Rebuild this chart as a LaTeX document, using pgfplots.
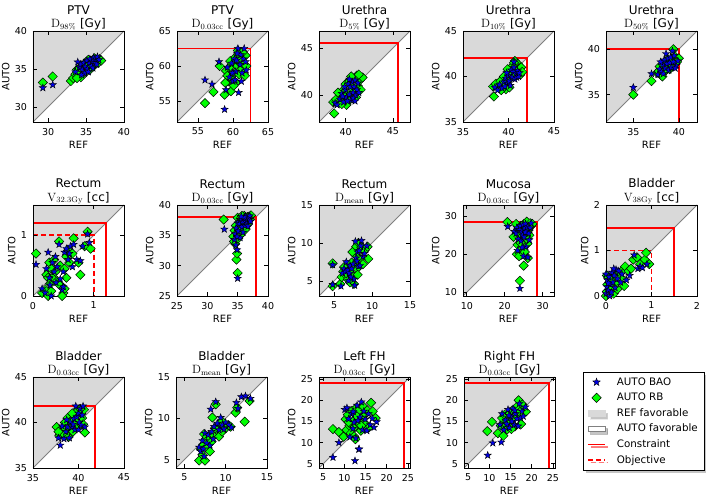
\documentclass[border=0pt]{standalone}
\usepackage[no-math]{fontspec}
\setmainfont{DejaVu Sans}
\usepackage{pgfplots}
\pgfplotsset{compat=1.18}
\usetikzlibrary{shadows}

\definecolor{favgray}{RGB}{217,217,217}
\definecolor{rbgreen}{RGB}{0,255,0}
\definecolor{baoblue}{RGB}{0,0,230}
\definecolor{limred}{RGB}{255,0,0}

% filled five-point star
\pgfdeclareplotmark{fstar}{%
  \pgfpathmoveto{\pgfpointpolar{90}{\pgfplotmarksize}}%
  \pgfpathlineto{\pgfpointpolar{126}{0.4\pgfplotmarksize}}%
  \pgfpathlineto{\pgfpointpolar{162}{\pgfplotmarksize}}%
  \pgfpathlineto{\pgfpointpolar{198}{0.4\pgfplotmarksize}}%
  \pgfpathlineto{\pgfpointpolar{234}{\pgfplotmarksize}}%
  \pgfpathlineto{\pgfpointpolar{270}{0.4\pgfplotmarksize}}%
  \pgfpathlineto{\pgfpointpolar{306}{\pgfplotmarksize}}%
  \pgfpathlineto{\pgfpointpolar{342}{0.4\pgfplotmarksize}}%
  \pgfpathlineto{\pgfpointpolar{18}{\pgfplotmarksize}}%
  \pgfpathlineto{\pgfpointpolar{54}{0.4\pgfplotmarksize}}%
  \pgfpathclose
  \pgfusepathqfillstroke
}

\pgfplotsset{
  panel/.style={
    scale only axis, width=91pt, height=91pt,
    anchor=south west,
    axis on top,
    tick align=inside,
    major tick length=4pt,
    every tick/.style={black, line width=0.6pt},
    axis line style={line width=0.8pt},
    tick label style={font=\fontsize{9.5}{11}\selectfont},
    /pgf/number format/assume math mode=true,
    xticklabel style={yshift=-2.5pt},
    yticklabel style={xshift=-2.5pt},
    label style={font=\fontsize{10}{12}\selectfont},
    xlabel={REF}, ylabel={AUTO},
    xlabel style={yshift=1pt},
    ylabel style={yshift=-1.5pt},
    every axis title shift=0pt,
    title style={font=\fontsize{12}{13.5}\selectfont, align=center, yshift=-3pt},
  },
  bao/.style={only marks, mark=fstar, mark size=3.8pt,
    mark options={fill=baoblue, draw=black, line width=0.4pt}, forget plot},
  rb/.style={only marks, mark=square*, mark size=3.3pt,
    mark options={rotate=45, fill=rbgreen, draw=black, line width=0.5pt}, forget plot},
}

% shaded half and diagonal
\newcommand{\base}[2]{%
  \addplot[fill=favgray, draw=none, forget plot] coordinates {(#1,#1) (#1,#2) (#2,#2)} -- cycle;
  \addplot[gray, line width=0.8pt, forget plot] coordinates {(#1,#1) (#2,#2)};
}
\newcommand{\cons}[2]{%
  \addplot[limred, line width=1.9pt, forget plot] coordinates {(#1,#2) (#2,#2) (#2,#1)};
}
\newcommand{\obj}[2]{%
  \addplot[limred, line width=1.9pt, dash pattern=on 5pt off 3pt, forget plot] coordinates {(#1,#2) (#2,#2) (#2,#1)};
}

\begin{document}
\begin{tikzpicture}
\path[use as bounding box] (0,0) rectangle (709pt,497pt);

% ---------------- row 1 ----------------
\begin{axis}[panel, at={(33pt,375pt)},
  xmin=28, xmax=40, ymin=28, ymax=40,
  xtick={30,35,40}, ytick={30,35,40},
  title={PTV\\$\mathrm{D}_{98\%}$ [Gy]}]
\base{28}{40}
\addplot[rb] coordinates {
(29.3,33.2) (30.6,34.0) (33.0,33.4) (33.3,33.8) (33.6,34.3) (33.8,34.9) (34.0,35.0)
(34.2,34.4) (34.4,35.3) (34.6,34.8) (34.8,35.4) (35.0,34.6) (35.0,35.9) (35.2,35.2)
(35.4,35.6) (35.5,34.9) (35.7,35.9) (35.9,35.3) (36.0,36.0) (36.2,35.6) (36.4,36.2)
(36.6,35.8) (36.8,36.3) (37.0,36.1) (34.3,33.9) (33.8,33.8) (35.3,36.2) (36.1,36.4)
(34.9,35.7) (35.6,35.3)};
\addplot[bao] coordinates {
(29.3,32.5) (30.6,32.9) (33.6,34.6) (33.9,35.9) (34.1,35.2) (34.3,35.6) (34.5,34.9)
(34.7,35.8) (34.9,35.3) (35.1,36.1) (35.2,35.0) (35.4,35.7) (35.5,36.3) (35.7,35.4)
(35.8,36.0) (36.0,36.5) (36.1,35.8) (36.3,36.3) (36.5,36.6) (36.7,36.2) (34.8,34.4)
(35.3,34.6) (35.9,35.1) (34.4,34.2) (36.4,35.6)};
\end{axis}

\begin{axis}[panel, at={(177pt,375pt)},
  xmin=52, xmax=65, ymin=52, ymax=65,
  xtick={55,60,65}, ytick={55,60,65},
  title={PTV\\$\mathrm{D}_{0.03\mathrm{cc}}$ [Gy]}]
\base{52}{65}
\cons{52}{62.5}
\addplot[rb] coordinates {
(56.0,54.7) (57.2,56.3) (58.1,60.0) (58.8,55.9) (59.0,59.3) (59.3,57.8) (59.5,59.8)
(59.7,56.4) (59.8,58.2) (60.0,60.6) (60.2,59.0) (60.3,61.2) (60.4,57.6) (60.6,60.0)
(60.8,61.8) (60.9,58.8) (61.0,60.4) (61.2,61.0) (61.3,59.6) (61.5,61.6) (61.6,60.2)
(61.7,58.6) (61.8,61.5) (61.9,60.0) (59.2,58.6) (60.1,57.2) (59.6,60.7) (60.7,62.2)
(58.9,57.6) (61.4,62.0)};
\addplot[bao] coordinates {
(56.0,58.0) (57.0,57.4) (58.0,60.6) (58.8,53.8) (59.0,56.6) (59.2,59.8) (59.5,58.4)
(59.8,60.4) (60.0,57.8) (60.2,61.0) (60.4,59.2) (60.5,60.8) (60.7,62.5) (60.8,56.2)
(61.0,60.2) (61.1,61.6) (61.3,59.0) (61.5,61.0) (61.6,62.5) (61.8,60.6) (60.3,58.0)
(59.9,59.0) (61.2,57.8) (60.6,61.8) (61.9,59.4)};
\end{axis}

\begin{axis}[panel, at={(319pt,375pt)},
  xmin=37.2, xmax=46.8, ymin=37.2, ymax=46.8,
  xtick={40,45}, ytick={40,45},
  title={Urethra\\$\mathrm{D}_{5\%}$ [Gy]}]
\base{37.2}{46.8}
\cons{37.2}{45.5}
\addplot[rb] coordinates {
(38.8,38.1) (38.7,39.3) (39.0,39.6) (39.3,39.2) (39.5,40.0) (39.7,40.5) (39.9,39.4)
(40.0,41.2) (40.2,40.1) (40.4,41.5) (40.5,39.6) (40.7,40.8) (40.9,41.8) (41.0,40.2)
(41.2,42.1) (41.3,41.0) (41.5,41.6) (41.6,40.6) (41.8,41.9) (39.2,40.3) (40.1,39.0)
(41.1,39.8) (40.6,42.0) (39.6,39.1) (41.4,42.2)};
\addplot[bao] coordinates {
(38.9,39.2) (39.1,39.0) (39.4,39.6) (39.6,40.2) (39.8,39.3) (40.0,40.6) (40.1,39.8)
(40.3,41.2) (40.4,40.1) (40.5,40.9) (40.6,39.5) (40.7,41.4) (40.8,40.3) (40.9,40.9)
(41.0,41.6) (41.1,40.0) (41.2,40.6) (41.3,41.3) (40.2,39.4) (39.7,39.9) (40.8,39.7)
(41.0,39.4) (39.9,40.9) (40.4,41.7) (41.4,40.3)};
\end{axis}

\begin{axis}[panel, at={(463pt,375pt)},
  xmin=35, xmax=45, ymin=35, ymax=45,
  xtick={35,40,45}, ytick={35,40,45},
  title={Urethra\\$\mathrm{D}_{10\%}$ [Gy]}]
\base{35}{45}
\cons{35}{42}
\addplot[rb] coordinates {
(38.4,37.8) (38.3,38.9) (38.6,39.2) (38.9,38.8) (39.1,39.5) (39.3,39.0) (39.5,40.0)
(39.8,39.6) (40.0,40.6) (40.2,39.8) (40.4,41.1) (40.5,40.3) (40.7,41.7) (40.9,40.8)
(41.0,41.4) (41.2,40.9) (41.4,41.0) (41.3,40.2) (39.7,38.6) (40.1,38.8) (39.2,38.5)
(41.5,40.5) (40.6,41.5) (39.9,40.8)};
\addplot[bao] coordinates {
(38.5,38.8) (38.8,38.5) (39.0,39.1) (39.3,38.7) (39.5,39.4) (39.7,39.8) (39.9,39.2)
(40.0,40.1) (40.1,39.5) (40.3,40.7) (40.4,39.9) (40.5,40.5) (40.6,41.0) (40.7,39.7)
(40.8,40.3) (40.9,39.9) (41.0,40.6) (41.1,40.0) (40.2,39.0) (39.6,38.9) (40.6,41.6)
(41.2,40.4) (39.8,40.4)};
\end{axis}

\begin{axis}[panel, at={(606pt,375pt)},
  xmin=32, xmax=42, ymin=32, ymax=42,
  xtick={35,40}, ytick={35,40},
  title={Urethra\\$\mathrm{D}_{50\%}$ [Gy]}]
\base{32}{42}
\cons{32}{40}
\addplot[rb] coordinates {
(35.0,35.0) (37.0,36.5) (37.6,37.4) (37.8,37.6) (38.0,37.2) (38.1,37.9) (38.3,38.2)
(38.4,37.5) (38.5,38.6) (38.7,38.0) (38.8,38.9) (38.9,38.3) (39.0,37.8) (39.1,38.7)
(39.2,38.1) (39.3,38.8) (39.4,40.0) (39.5,38.4) (39.6,39.2) (40.0,39.0) (38.2,37.0)
(38.6,37.7) (39.8,38.6) (37.9,38.1)};
\addplot[bao] coordinates {
(35.0,35.8) (37.0,37.3) (37.7,37.2) (37.9,37.8) (38.1,37.5) (38.2,38.3) (38.4,38.8)
(38.5,37.9) (38.6,39.5) (38.7,38.4) (38.8,39.0) (38.9,37.7) (39.0,38.5) (39.1,39.1)
(39.2,38.0) (39.3,39.8) (39.4,38.6) (39.5,39.3) (39.7,38.2) (39.9,38.7) (38.3,37.3)
(39.6,37.9) (38.0,38.6)};
\end{axis}

% ---------------- row 2 ----------------
\begin{axis}[panel, at={(33pt,201pt)},
  xmin=0, xmax=1.5, ymin=0, ymax=1.5,
  xtick={0,1}, ytick={0,1},
  title={Rectum\\$\mathrm{V}_{32.3\mathrm{Gy}}$ [cc]}]
\base{0}{1.5}
\cons{0}{1.2}
\obj{0}{1}
\addplot[rb] coordinates {
(0.05,0.70) (0.15,0.05) (0.20,0.10) (0.22,0.35) (0.25,0.00) (0.27,0.55) (0.28,0.20)
(0.30,0.45) (0.30,0.08) (0.32,0.30) (0.35,0.60) (0.37,0.40) (0.40,0.25) (0.43,0.90)
(0.45,0.50) (0.48,0.15) (0.50,0.05) (0.52,0.45) (0.55,0.65) (0.55,0.30) (0.58,0.75)
(0.60,0.55) (0.65,0.70) (0.67,0.95) (0.75,0.55) (0.78,0.35) (0.85,0.82) (0.90,1.06)
(0.95,0.78) (0.48,0.00) (0.52,0.12) (0.25,0.30) (0.42,0.20)};
\addplot[bao] coordinates {
(0.05,0.52) (0.15,0.12) (0.20,0.05) (0.22,0.45) (0.25,0.72) (0.27,0.30) (0.28,0.18)
(0.30,0.00) (0.32,0.55) (0.35,0.40) (0.37,0.65) (0.40,0.48) (0.43,0.85) (0.45,0.28)
(0.48,0.10) (0.50,0.40) (0.52,0.72) (0.55,0.78) (0.58,0.60) (0.60,0.70) (0.62,0.82)
(0.65,0.48) (0.67,0.85) (0.72,0.60) (0.78,0.58) (0.82,0.82) (0.90,1.02) (0.93,0.88)
(0.38,0.22) (0.50,0.15)};
\end{axis}

\begin{axis}[panel, at={(177pt,201pt)},
  xmin=25, xmax=40, ymin=25, ymax=40,
  xtick={25,30,35,40}, ytick={25,30,35,40},
  title={Rectum\\$\mathrm{D}_{0.03\mathrm{cc}}$ [Gy]}]
\base{25}{40}
\cons{25}{38}
\addplot[rb] coordinates {
(32.7,37.6) (35.0,28.8) (34.8,31.0) (34.9,32.0) (34.6,33.6) (34.4,34.0) (34.5,35.8)
(34.3,34.8) (35.0,37.9) (35.2,36.3) (35.3,37.2) (35.5,37.8) (35.6,36.0) (35.8,35.6)
(35.9,37.5) (36.0,36.8) (36.1,38.2) (36.3,37.4) (36.5,36.6) (36.6,38.0) (36.7,37.0)
(36.9,38.1) (37.0,37.6) (37.2,38.3) (35.4,35.0) (35.1,34.5) (36.2,35.9) (35.7,38.2)
(36.8,37.9) (34.7,36.6)};
\addplot[bao] coordinates {
(32.8,36.0) (35.0,27.9) (34.9,32.6) (34.7,33.4) (34.5,34.3) (34.6,35.2) (34.8,36.2)
(35.0,37.0) (35.1,35.7) (35.3,36.9) (35.4,34.6) (35.5,37.6) (35.7,36.4) (35.8,37.3)
(35.9,35.5) (36.0,37.8) (36.2,36.6) (36.3,38.1) (36.4,37.2) (36.6,37.6) (36.7,36.5)
(36.9,37.7) (37.0,38.2) (37.1,37.3) (36.1,38.0) (35.6,38.1) (34.9,34.8)};
\end{axis}

\begin{axis}[panel, at={(319pt,201pt)},
  xmin=3, xmax=15, ymin=3, ymax=15,
  xtick={5,10,15}, ytick={5,10,15},
  title={Rectum\\$\mathrm{D}_{\mathrm{mean}}$ [Gy]}]
\base{3}{15}
\addplot[rb] coordinates {
(4.8,7.3) (4.8,4.3) (5.8,4.6) (6.0,5.5) (6.2,6.2) (6.5,5.8) (6.7,6.5) (6.8,5.2)
(7.0,6.8) (7.2,6.0) (7.3,7.4) (7.5,5.5) (7.6,4.6) (7.7,7.0) (7.8,8.4) (7.9,9.5)
(8.0,6.6) (8.2,10.0) (8.3,7.5) (8.4,8.0) (8.6,9.4) (8.8,7.2) (9.0,9.0) (9.5,7.9)
(9.4,9.5) (7.4,8.8) (6.3,6.8) (8.1,5.8) (7.1,4.8) (6.6,6.0)};
\addplot[bao] coordinates {
(4.8,7.1) (4.8,4.5) (5.9,4.3) (6.1,6.0) (6.3,6.6) (6.5,6.2) (6.6,7.5) (6.8,6.4)
(7.0,6.0) (7.1,7.0) (7.3,6.6) (7.5,7.2) (7.6,5.2) (7.7,4.4) (7.8,10.2) (7.9,8.0)
(8.0,7.6) (8.1,8.8) (8.2,6.9) (8.3,9.0) (8.4,7.0) (8.6,10.3) (8.8,8.2) (9.0,8.6)
(9.3,9.6) (7.2,5.5) (6.9,5.0) (8.5,9.6)};
\end{axis}

\begin{axis}[panel, at={(463pt,201pt)},
  xmin=9, xmax=33, ymin=9, ymax=33,
  xtick={10,20,30}, ytick={10,20,30},
  title={Mucosa\\$\mathrm{D}_{0.03\mathrm{cc}}$ [Gy]}]
\base{9}{33}
\cons{9}{28.5}
\addplot[rb] coordinates {
(20.7,28.5) (22.3,24.6) (23.0,28.0) (23.2,20.0) (23.4,22.5) (23.6,26.5) (23.8,19.5)
(24.0,13.0) (24.1,25.0) (24.3,27.5) (24.5,21.5) (24.7,23.8) (24.9,26.0) (25.0,17.0)
(25.1,28.0) (25.3,20.6) (25.5,24.5) (25.6,27.0) (25.8,28.6) (26.0,22.8) (26.1,19.0)
(26.3,26.4) (26.5,25.0) (26.7,28.2) (27.0,27.5) (27.3,28.0) (24.2,23.0) (25.9,24.0)
(23.7,25.5)};
\addplot[bao] coordinates {
(20.8,27.3) (22.5,26.0) (23.0,25.5) (23.2,27.0) (23.4,21.0) (23.6,24.0) (23.8,26.5)
(24.0,11.0) (24.1,27.5) (24.3,23.5) (24.5,26.0) (24.7,25.0) (24.9,27.8) (25.0,19.5)
(25.1,24.5) (25.3,26.8) (25.5,28.0) (25.6,22.0) (25.8,26.0) (26.0,27.2) (26.1,19.2)
(26.3,25.5) (26.5,23.8) (26.7,27.0) (27.0,28.2) (24.6,21.8) (25.4,25.8)};
\end{axis}

\begin{axis}[panel, at={(606pt,201pt)},
  xmin=0, xmax=2, ymin=0, ymax=2,
  xtick={0,1,2}, ytick={0,1,2},
  title={Bladder\\$\mathrm{V}_{38\mathrm{Gy}}$ [cc]}]
\base{0}{2}
\cons{0}{1.5}
\obj{0}{1}
\addplot[rb] coordinates {
(0.00,0.00) (0.02,0.10) (0.03,0.25) (0.05,0.40) (0.06,0.05) (0.08,0.30) (0.10,0.15)
(0.12,0.20) (0.15,0.35) (0.17,0.05) (0.20,0.45) (0.22,0.28) (0.25,0.15) (0.30,0.50)
(0.33,0.40) (0.35,0.55) (0.40,0.22) (0.42,0.65) (0.50,0.55) (0.55,0.60) (0.60,0.80)
(0.68,0.85) (0.75,0.70) (0.85,0.80) (0.88,0.95) (0.95,0.70) (0.02,0.45) (0.10,0.35)};
\addplot[bao] coordinates {
(0.00,0.05) (0.00,0.48) (0.02,0.20) (0.03,0.35) (0.05,0.12) (0.07,0.42) (0.08,0.00)
(0.10,0.25) (0.12,0.08) (0.13,0.52) (0.15,0.30) (0.18,0.45) (0.20,0.18) (0.22,0.58)
(0.25,0.38) (0.28,0.55) (0.32,0.30) (0.35,0.48) (0.45,0.35) (0.52,0.45) (0.62,0.90)
(0.70,0.60) (0.75,0.65) (0.80,0.62) (0.90,0.70) (0.05,0.28) (0.17,0.60)};
\end{axis}

% ---------------- row 3 ----------------
\begin{axis}[panel, at={(33pt,29pt)},
  xmin=35, xmax=45, ymin=35, ymax=45,
  xtick={35,40,45}, ytick={35,40,45},
  title={Bladder\\$\mathrm{D}_{0.03\mathrm{cc}}$ [Gy]}]
\base{35}{45}
\cons{35}{41.8}
\addplot[rb] coordinates {
(37.6,39.5) (37.9,38.6) (38.1,39.2) (38.3,38.8) (38.5,40.0) (38.6,39.3) (38.8,40.5)
(39.0,39.6) (39.2,40.2) (39.4,39.0) (39.5,40.8) (39.7,40.0) (39.8,41.2) (40.0,40.4)
(40.1,39.6) (40.3,41.0) (40.4,40.5) (40.5,39.8) (40.6,41.4) (40.7,38.9) (38.9,38.4)
(39.3,41.0) (40.2,41.5) (37.8,39.0)};
\addplot[bao] coordinates {
(38.0,37.5) (37.8,38.3) (38.2,39.6) (38.4,38.2) (38.6,39.0) (38.8,39.5) (39.0,38.3)
(39.1,40.0) (39.3,39.5) (39.5,40.4) (39.6,39.2) (39.7,41.8) (39.8,40.6) (40.0,41.0)
(40.1,40.0) (40.2,41.5) (40.3,39.7) (40.4,40.8) (40.5,41.8) (40.7,39.5) (39.4,39.8)
(38.7,40.3) (40.0,39.2)};
\end{axis}

\begin{axis}[panel, at={(176pt,29pt)},
  xmin=4, xmax=15, ymin=4, ymax=15,
  xtick={5,10,15}, ytick={5,10,15},
  title={Bladder\\$\mathrm{D}_{\mathrm{mean}}$ [Gy]}]
\base{4}{15}
\addplot[rb] coordinates {
(6.8,4.9) (7.0,6.3) (7.2,5.6) (7.3,6.8) (7.5,4.9) (7.6,7.5) (7.8,6.5) (8.0,7.8)
(8.1,6.0) (8.3,7.2) (8.4,10.1) (8.5,8.0) (8.8,11.7) (9.0,8.5) (9.2,7.8) (9.4,9.3)
(9.6,8.4) (9.8,9.0) (10.0,8.8) (10.3,9.2) (10.6,9.0) (11.2,10.7) (11.4,11.3)
(12.3,9.6) (12.9,12.1) (7.4,8.1) (8.7,8.8) (9.5,9.7)};
\addplot[bao] coordinates {
(6.8,6.5) (7.0,6.0) (7.2,7.3) (7.4,5.4) (7.5,8.2) (7.7,7.0) (7.9,8.0) (8.1,6.7)
(8.2,11.1) (8.3,8.4) (8.5,7.5) (8.8,12.0) (9.0,9.4) (9.2,8.6) (9.4,10.1) (9.6,9.2)
(9.8,8.7) (10.0,9.5) (10.4,9.2) (10.7,8.9) (11.3,11.9) (11.5,11.2) (11.9,12.6)
(12.4,12.7) (13.0,12.4) (7.3,6.3) (8.6,9.0)};
\end{axis}

\begin{axis}[panel, at={(319pt,29pt)},
  xmin=4, xmax=25.5, ymin=4, ymax=25.5,
  xtick={5,10,15,20,25}, ytick={5,10,15,20,25},
  title={Left FH\\$\mathrm{D}_{0.03\mathrm{cc}}$ [Gy]}]
\base{4}{25.5}
\cons{4}{24}
\addplot[rb] coordinates {
(7.3,13.2) (8.7,12.5) (9.8,11.4) (10.3,15.5) (10.5,13.0) (10.8,16.6) (11.2,14.0)
(11.5,12.2) (11.8,17.5) (12.0,15.0) (12.3,11.5) (12.5,13.8) (12.8,18.2) (13.0,16.2)
(13.3,14.5) (13.6,17.8) (13.9,12.8) (14.2,15.8) (14.5,18.5) (14.8,14.6) (15.0,16.8)
(15.4,17.6) (15.8,13.6) (16.3,19.4) (16.7,17.4) (17.4,15.8) (14.0,14.0) (11.0,14.8)
(12.6,10.8)};
\addplot[bao] coordinates {
(7.3,6.5) (8.7,10.0) (10.1,17.8) (10.6,18.2) (11.0,15.6) (11.3,11.3) (11.7,16.8)
(12.0,13.3) (12.3,14.8) (12.5,5.7) (12.7,11.0) (13.0,18.8) (13.4,8.4) (13.5,8.5)
(13.7,16.0) (14.0,19.6) (14.3,13.0) (14.6,17.4) (14.9,15.5) (15.3,12.8) (15.7,16.8)
(16.1,14.2) (16.6,15.7) (17.0,13.6) (17.6,14.9) (13.2,15.2) (12.1,17.3)};
\end{axis}

\begin{axis}[panel, at={(464pt,29pt)},
  xmin=4, xmax=25.5, ymin=4, ymax=25.5,
  xtick={5,10,15,20,25}, ytick={5,10,15,20,25},
  title={Right FH\\$\mathrm{D}_{0.03\mathrm{cc}}$ [Gy]}]
\base{4}{25.5}
\cons{4}{24}
\addplot[rb] coordinates {
(9.5,12.7) (10.6,14.9) (12.0,12.2) (12.7,14.0) (13.0,15.8) (13.3,11.6) (13.6,16.6)
(13.9,14.3) (14.2,13.1) (14.5,15.4) (14.8,16.9) (15.1,14.5) (15.4,17.6) (15.7,15.9)
(16.0,13.8) (16.3,16.4) (16.6,18.6) (16.9,20.0) (17.2,17.2) (17.5,14.4) (17.8,19.0)
(18.6,17.3) (14.0,15.0) (15.2,13.2)};
\addplot[bao] coordinates {
(9.6,7.0) (10.8,9.9) (12.8,10.1) (12.5,14.2) (13.0,16.8) (13.4,13.0) (13.8,15.3)
(14.1,14.4) (14.4,17.8) (14.7,13.5) (15.0,16.2) (15.3,15.0) (15.6,18.0) (15.9,14.2)
(16.2,16.8) (16.5,15.6) (16.8,13.9) (17.1,19.2) (17.4,15.8) (17.7,17.4) (18.0,16.2)
(18.5,18.4) (14.6,16.4) (16.0,17.6)};
\end{axis}

% ---------------- legend ----------------
\begin{axis}[at={(583pt,25pt)}, anchor=south west, scale only axis,
  width=120pt, height=100pt, hide axis,
  xmin=0, xmax=1, ymin=0, ymax=1,
  legend cell align=left,
  legend style={at={(0,1)}, anchor=north west,
    font=\fontsize{10.3}{12}\selectfont,
    draw=black, fill=white, inner xsep=4pt, inner ysep=4pt, row sep=3.6pt,
    nodes={inner ysep=1pt, inner xsep=2pt, text height=8pt, text depth=2pt},
    /tikz/every odd column/.append style={column sep=9pt},
    drop shadow={shadow xshift=2.5pt, shadow yshift=-2.5pt, fill=black!45}}]
\addlegendimage{only marks, mark=fstar, mark size=4pt, mark options={fill=baoblue, draw=black, line width=0.4pt}}
\addlegendentry{AUTO BAO}
\addlegendimage{only marks, mark=square*, mark size=3.3pt, mark options={rotate=45, fill=rbgreen, draw=black, line width=0.5pt}}
\addlegendentry{AUTO RB}
\addlegendimage{area legend, fill=favgray, draw=favgray}
\addlegendentry{REF favorable}
\addlegendimage{area legend, fill=white, draw=gray, line width=0.8pt}
\addlegendentry{AUTO favorable}
\addlegendimage{limred, line width=1.6pt}
\addlegendentry{Constraint}
\addlegendimage{limred, line width=1.6pt, dash pattern=on 5pt off 3pt}
\addlegendentry{Objective}
\end{axis}

\end{tikzpicture}
\end{document}
